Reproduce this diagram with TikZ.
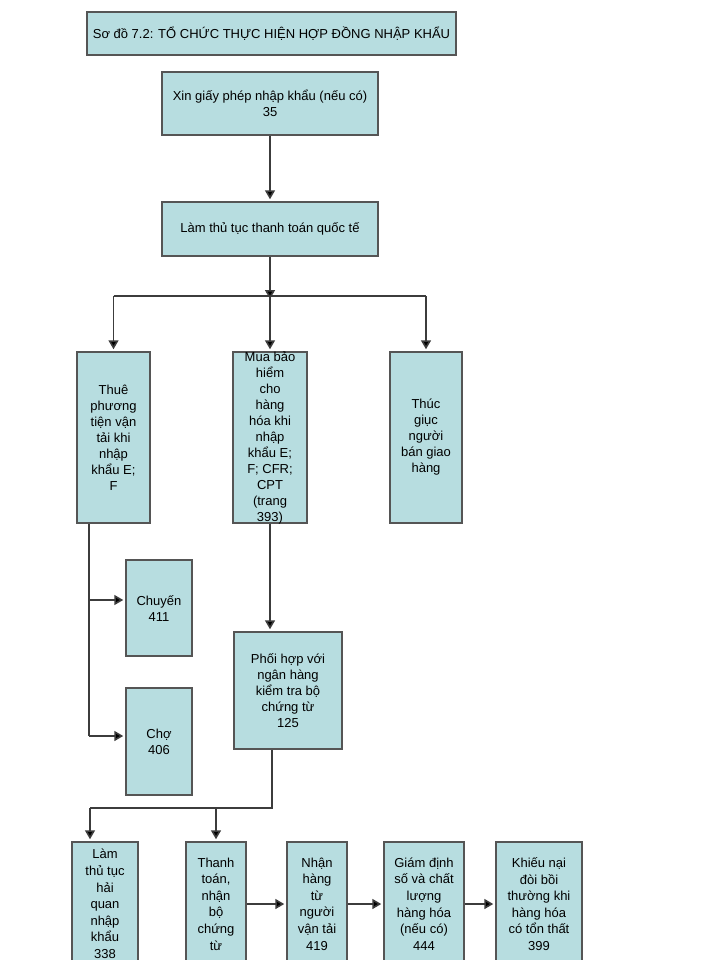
\documentclass[tikz,border=0pt]{standalone}
\usepackage{fontspec}
\setmainfont{Liberation Sans}
\usetikzlibrary{arrows.meta}
\definecolor{boxfill}{RGB}{183,221,224}
\definecolor{boxline}{RGB}{85,85,85}
\definecolor{conn}{RGB}{60,60,60}
\begin{document}
\begin{tikzpicture}[x=1pt,y=-1pt,
  box/.style={draw=boxline, fill=boxfill, line width=1.5pt, rectangle, inner sep=0pt,
    align=center, font=\fontsize{13}{16}\selectfont},
  lowbox/.style={box, font=\fontsize{13}{16.6}\selectfont},
  conline/.style={draw=conn, line width=1.6pt},
  arr/.style={conline, shorten >=2pt, -{Triangle[length=9pt,width=10pt,fill=black]}}
]
\useasboundingbox (0,0) rectangle (720,960);
\fill[white] (0,0) rectangle (720,960);

\node[box, minimum width=369pt, minimum height=43pt] (title) at (271.5,33.5)
  {Sơ đồ 7.2: TỔ CHỨC THỰC HIỆN HỢP ĐỒNG NHẬP KHẨU};
\node[box, minimum width=216pt, minimum height=63pt] (xin) at (270,103.5)
  {Xin giấy phép nhập khẩu (nếu có)\\35};
\node[box, minimum width=216pt, minimum height=54pt] (ttqt) at (270,229)
  {Làm thủ tục thanh toán quốc tế};

\node[box, minimum width=73pt, minimum height=171pt] (thue) at (113.5,437.5)
  {Thuê\\phương\\tiện vận\\tải khi\\nhập\\khẩu E;\\F};
\node[box, minimum width=74pt, minimum height=171pt] (mua) at (270,437.5) {};
\node[align=center, inner sep=0pt, font=\fontsize{13}{16}\selectfont] (muatext) at (mua.center)
  {Mua bảo\\hiểm\\cho\\hàng\\hóa khi\\nhập\\khẩu E;\\F; CFR;\\CPT\\(trang\\393)};
\node[box, minimum width=72pt, minimum height=171pt] (thuc) at (426,437.5)
  {Thúc\\giục\\người\\bán giao\\hàng};

\node[box, minimum width=66pt, minimum height=96pt] (chuyen) at (159,608)
  {Chuyến\\411};
\node[box, minimum width=66pt, minimum height=107pt] (cho) at (159,741.5)
  {Chợ\\406};
\node[box, minimum width=108pt, minimum height=117pt] (phoi) at (288,690.5)
  {Phối hợp với\\ngân hàng\\kiểm tra bộ\\chứng từ\\125};

\node[lowbox, minimum width=66pt, minimum height=124pt] (hq) at (105,904)
  {Làm\\thủ tục\\hải\\quan\\nhập\\khẩu\\338};
\node[lowbox, minimum width=60pt, minimum height=124pt] (thanh) at (216,904)
  {Thanh\\toán,\\nhận\\bộ\\chứng\\từ};
\node[lowbox, minimum width=60pt, minimum height=124pt] (nhan) at (317,904)
  {Nhận\\hàng\\từ\\người\\vận tải\\419};
\node[lowbox, minimum width=80pt, minimum height=124pt] (giam) at (424,904)
  {Giám định\\số và chất\\lượng\\hàng hóa\\(nếu có)\\444};
\node[lowbox, minimum width=86pt, minimum height=124pt] (khieu) at (539,904)
  {Khiếu nại\\đòi bồi\\thường khi\\hàng hóa\\có tổn thất\\399};

% connectors
\draw[arr] (xin.south) -- (ttqt.north);
\coordinate (bus) at (270,296);
\draw[conline] (thue.north |- bus) -- (thuc.north |- bus);
\draw[arr, shorten >=-3pt] (ttqt.south) -- (bus);
\draw[arr] (thue.north |- bus) -- (thue.north);
\draw[arr] (bus) -- (mua.north);
\draw[arr] (thuc.north |- bus) -- (thuc.north);

\coordinate (tb) at ([xshift=13pt]thue.south west);
\coordinate (c1) at ([yshift=8pt]chuyen.west);
\coordinate (c2) at ([yshift=5.5pt]cho.west);
\draw[conline] (tb) -- (tb |- c2);
\draw[arr] (tb |- c1) -- (c1);
\draw[arr] (tb |- c2) -- (c2);

\draw[arr] (mua.south) -- (mua.south |- phoi.north);

\coordinate (pb) at ([xshift=-16pt]phoi.south);
\coordinate (bus2) at (272,808);
\coordinate (hqt) at ([xshift=-15pt]hq.north);
\draw[conline] (pb) -- (bus2) -- (hqt |- bus2);
\draw[arr] (hqt |- bus2) -- (hqt);
\draw[arr] (thanh.north |- bus2) -- (thanh.north);

\draw[arr] (thanh.east) -- (nhan.west);
\draw[arr] (nhan.east) -- (giam.west);
\draw[arr] (giam.east) -- (khieu.west);
\end{tikzpicture}
\end{document}
